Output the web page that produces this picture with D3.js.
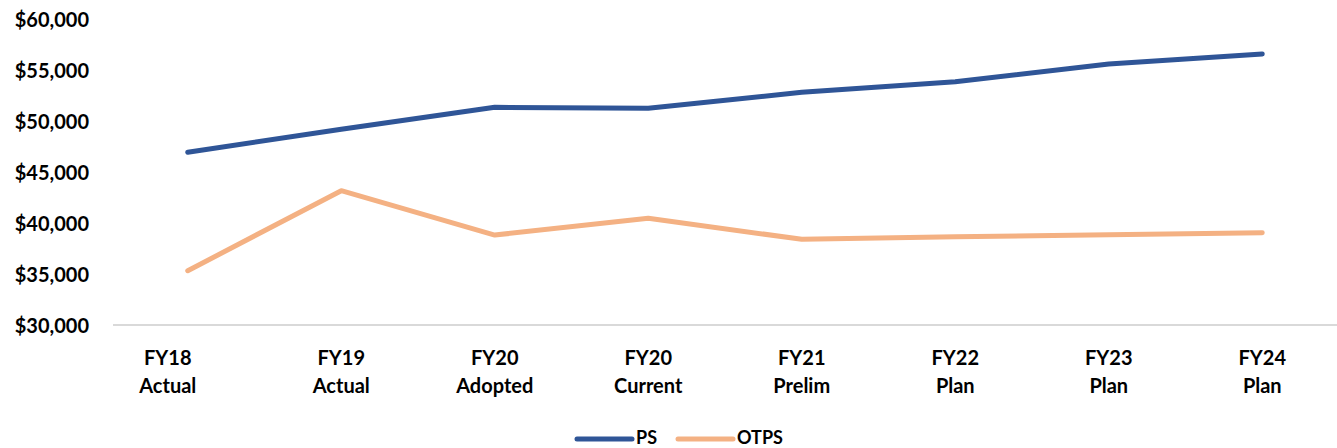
<!DOCTYPE html>
<html>
<head>
<meta charset="utf-8">
<script src="https://cdn.jsdelivr.net/npm/d3@7"></script>
<style>
  body { margin: 0; background: #fff; }
  text { font-family: Lato, "Open Sans", sans-serif; font-weight: bold; fill: #000; }
</style>
</head>
<body>
<div id="chart"></div>
<script>
const width = 1337;
const height = 448;

const categories = [
  ["FY18", "Actual"], ["FY19", "Actual"], ["FY20", "Adopted"], ["FY20", "Current"],
  ["FY21", "Prelim"], ["FY22", "Plan"], ["FY23", "Plan"], ["FY24", "Plan"]
];
const psValues = [46930, 49200, 51340, 51250, 52810, 53850, 55590, 56570];
const otpsValues = [35320, 43170, 38820, 40460, 38400, 38660, 38850, 39050];
const yTicks = [30000, 35000, 40000, 45000, 50000, 55000, 60000];
const seriesNames = ["PS", "OTPS"];
const colors = ["#2F5597", "#F4B183"];

const svg = d3.select("#chart")
  .append("svg")
  .attr("width", width)
  .attr("height", height);

const xScale = d3.scaleBand()
  .domain(categories.map((d, i) => i))
  .range([111, 1339]);

const yScale = d3.scaleLinear()
  .domain([30000, 60000])
  .range([325, 19]);

// y axis labels, no line
const yAxis = d3.axisLeft(yScale)
  .tickValues(yTicks)
  .tickSize(0)
  .tickPadding(0)
  .tickFormat(d => "$" + d3.format(",")(d));

svg.append("g")
  .attr("transform", "translate(89, 0)")
  .call(yAxis)
  .call(g => g.select(".domain").remove())
  .selectAll("text")
  .style("font-size", "20px")
  .attr("dy", "0.35em");

// bottom axis line
svg.append("line")
  .attr("x1", 113)
  .attr("x2", 1337)
  .attr("y1", yScale(30000))
  .attr("y2", yScale(30000))
  .attr("stroke", "#d9d9d9")
  .attr("stroke-width", 2);

// category labels
const catLabels = svg.append("g")
  .selectAll("text")
  .data(categories)
  .join("text")
  .attr("x", (d, i) => xScale(i) + xScale.bandwidth() / 2 - (i === 0 ? 20 : 0))
  .attr("y", 365)
  .attr("text-anchor", "middle")
  .style("font-size", "20px");

catLabels.append("tspan")
  .attr("x", function() { return d3.select(this.parentNode).attr("x"); })
  .text(d => d[0]);
catLabels.append("tspan")
  .attr("x", function() { return d3.select(this.parentNode).attr("x"); })
  .attr("dy", 28)
  .text(d => d[1]);

const line = d3.line()
  .x((d, i) => xScale(i) + xScale.bandwidth() / 2)
  .y(d => yScale(d));

[psValues, otpsValues].forEach((values, k) => {
  svg.append("path")
    .datum(values)
    .attr("fill", "none")
    .attr("stroke", colors[k])
    .attr("stroke-width", 5)
    .attr("stroke-linecap", "round")
    .attr("stroke-linejoin", "round")
    .attr("d", line);
});

// legend
const legendItems = [
  { name: seriesNames[0], x: 577, color: colors[0] },
  { name: seriesNames[1], x: 678, color: colors[1] }
];
const legend = svg.append("g");
legendItems.forEach(item => {
  legend.append("line")
    .attr("x1", item.x)
    .attr("x2", item.x + 55)
    .attr("y1", 439)
    .attr("y2", 439)
    .attr("stroke", item.color)
    .attr("stroke-width", 5)
    .attr("stroke-linecap", "round");
  legend.append("text")
    .attr("x", item.x + 59)
    .attr("y", 444)
    .style("font-size", "18px")
    .text(item.name);
});
</script>
</body>
</html>
